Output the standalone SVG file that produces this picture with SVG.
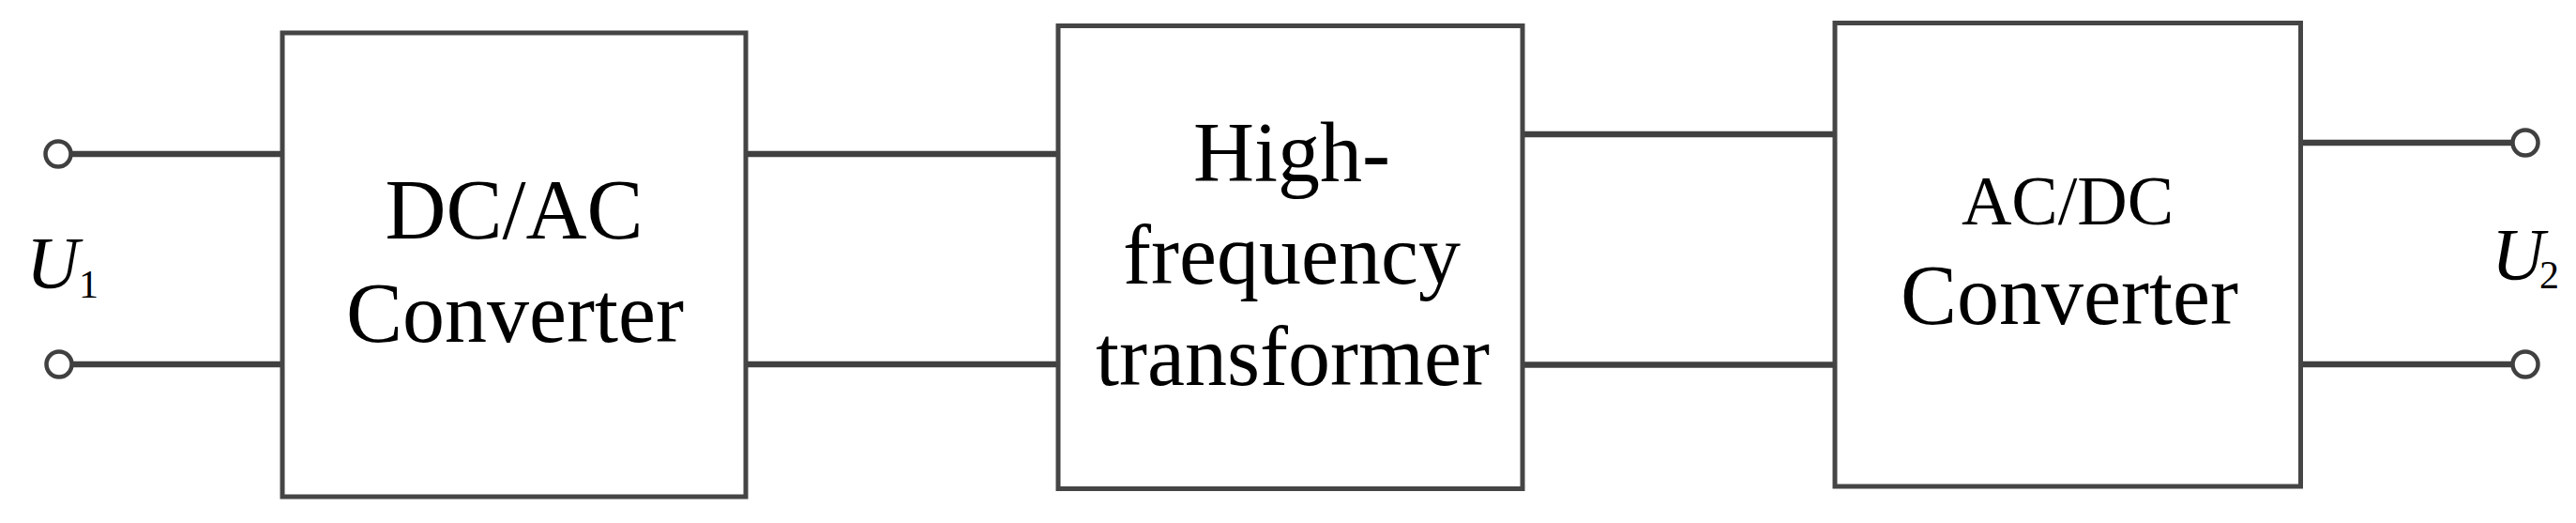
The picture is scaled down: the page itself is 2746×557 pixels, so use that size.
<svg xmlns="http://www.w3.org/2000/svg" width="2746" height="557" viewBox="0 0 2746 557">
<style>
.box{fill:#ffffff;stroke:#454545;stroke-width:5}
.wire{stroke:#404040;stroke-width:6.5;fill:none}
.term{fill:#ffffff;stroke:#404040;stroke-width:4.5}
.lbl{font-family:"Liberation Serif","Times New Roman",serif;fill:#000000;text-anchor:middle}
.sym{font-family:"Liberation Serif","Times New Roman",serif;fill:#000000}
</style>
<rect width="2746" height="557" fill="#ffffff"/>
<g id="connectors">
<line class="wire" x1="75" y1="164" x2="301" y2="164"/>
<line class="wire" x1="76" y1="388" x2="301" y2="388"/>
<line class="wire" x1="795" y1="164" x2="1128" y2="164"/>
<line class="wire" x1="795" y1="388" x2="1128" y2="388"/>
<line class="wire" x1="1623" y1="143" x2="1956" y2="143"/>
<line class="wire" x1="1623" y1="388.5" x2="1956" y2="388.5"/>
<line class="wire" x1="2452" y1="152" x2="2678" y2="152"/>
<line class="wire" x1="2452" y1="388" x2="2678" y2="388"/>
</g>
<g id="term-in">
<circle class="term" cx="62" cy="164" r="13.5"/>
<circle class="term" cx="63" cy="388" r="13.5"/>
<text class="sym" x="28" y="306" font-size="78" font-style="italic">U</text>
<text class="sym" x="84" y="317" font-size="42">1</text>
</g>
<g id="term-out">
<circle class="term" cx="2692" cy="152" r="13.5"/>
<circle class="term" cx="2692" cy="388" r="13.5"/>
<text class="sym" x="2656" y="297" font-size="78" font-style="italic">U</text>
<text class="sym" x="2707" y="307" font-size="42">2</text>
</g>
<g id="dcac">
<rect class="box" x="301" y="35" width="494" height="494"/>
<text class="lbl" x="548" y="254" font-size="90">DC/AC</text>
<text class="lbl" x="549" y="364" font-size="90">Converter</text>
</g>
<g id="hft">
<rect class="box" x="1128" y="27.5" width="495" height="493"/>
<text class="lbl" x="1377" y="193" font-size="90">High-</text>
<text class="lbl" x="1377" y="302" font-size="90">frequency</text>
<text class="lbl" x="1378" y="410" font-size="90">transformer</text>
</g>
<g id="acdc">
<rect class="box" x="1956" y="24.5" width="496.5" height="493.5"/>
<text class="lbl" x="2204" y="238.5" font-size="74">AC/DC</text>
<text class="lbl" x="2206" y="344.5" font-size="90">Converter</text>
</g>
</svg>
